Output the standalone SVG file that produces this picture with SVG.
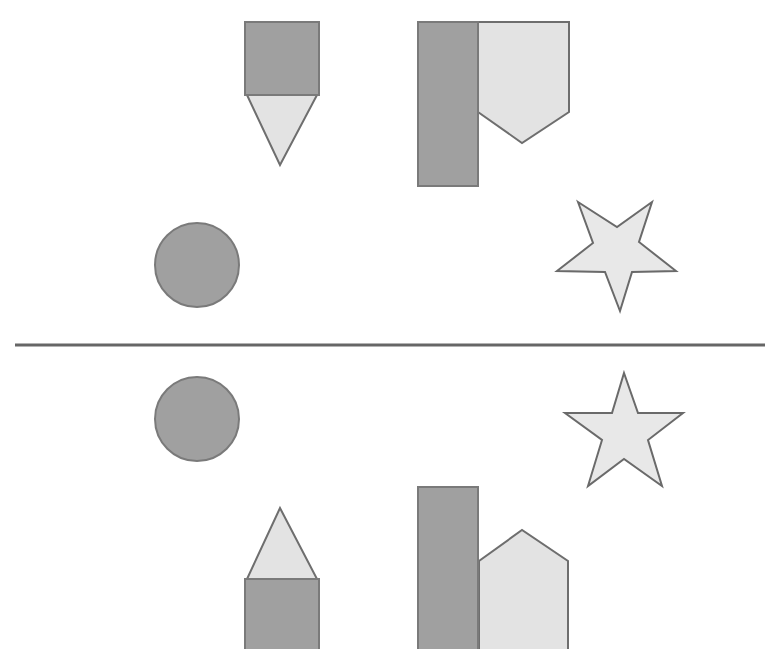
<svg xmlns="http://www.w3.org/2000/svg" width="765" height="649" viewBox="0 0 765 649">
  <style>
    .dark { fill: #a0a0a0; stroke: #7a7a7a; stroke-width: 2; }
    .light { fill: #e3e3e3; stroke: #6e6e6e; stroke-width: 2; stroke-linejoin: miter; }
    .star { fill: #e8e8e8; stroke: #6a6a6a; stroke-width: 2; stroke-linejoin: miter; }
    .axis { stroke: #666666; stroke-width: 3; }
  </style>
  <rect width="765" height="649" fill="#ffffff"/>

  <!-- upper half -->
  <g id="pencil-top">
    <polygon class="light" points="247,95 317,95 280,165"/>
    <rect class="dark" x="245" y="22" width="74" height="73"/>
  </g>
  <g id="bar-pentagon-top">
    <polygon class="light" points="478,22 569,22 569,112 522,143 478,112"/>
    <rect class="dark" x="418" y="22" width="60" height="164"/>
  </g>
  <g id="circle-top">
    <circle class="dark" cx="197" cy="265" r="42"/>
  </g>
  <g id="star-top">
    <polygon class="star" points="578,202 617,227 652,202 639,242 676,271 632,272 620,311 605,272 557,271 593,243"/>
  </g>

  <!-- dividing line -->
  <g id="divider">
    <line class="axis" x1="15" y1="345" x2="765" y2="345"/>
  </g>

  <!-- lower half -->
  <g id="circle-bottom">
    <circle class="dark" cx="197" cy="419" r="42"/>
  </g>
  <g id="star-bottom">
    <polygon class="star" points="624,373 638,413 683,413 648,440 662,486 624,459 588,486 602,440 565,413 612,413"/>
  </g>
  <g id="pencil-bottom">
    <polygon class="light" points="247,579 317,579 280,508"/>
    <rect class="dark" x="245" y="579" width="74" height="80"/>
  </g>
  <g id="bar-pentagon-bottom">
    <polygon class="light" points="479,660 479,561 522,530 568,561 568,660"/>
    <rect class="dark" x="418" y="487" width="60" height="173"/>
  </g>
</svg>
